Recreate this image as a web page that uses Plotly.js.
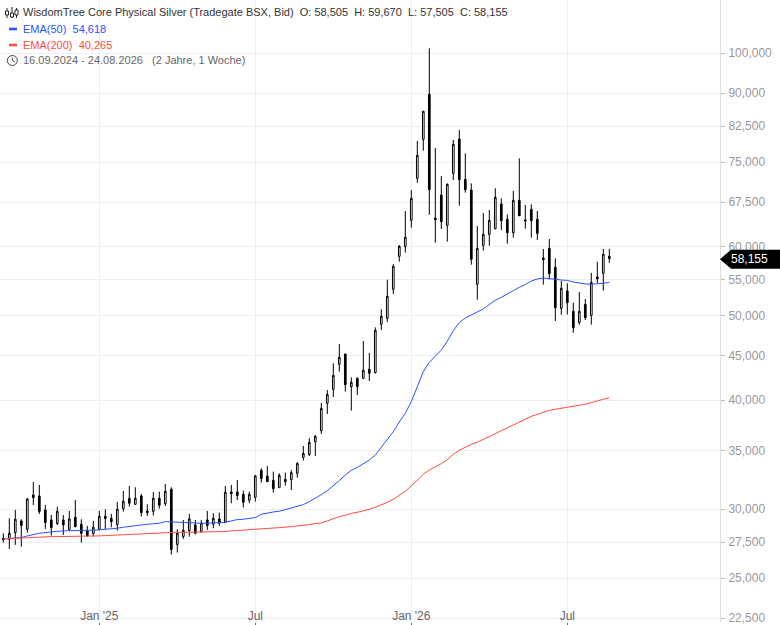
<!DOCTYPE html>
<html>
<head>
<meta charset="utf-8">
<script src="https://cdn.plot.ly/plotly-3.0.1.min.js"></script>
<style>html,body{margin:0;padding:0;background:#fff}#c{width:780px;height:625px}</style>
</head>
<body>
<div id="c"></div>
<script>
const dates = ["2024-09-16","2024-09-23","2024-09-30","2024-10-07","2024-10-14","2024-10-21","2024-10-28","2024-11-04","2024-11-11","2024-11-18","2024-11-25","2024-12-02","2024-12-09","2024-12-16","2024-12-23","2024-12-30",
"2025-01-06","2025-01-13","2025-01-20","2025-01-27","2025-02-03","2025-02-10","2025-02-17","2025-02-24","2025-03-03","2025-03-10","2025-03-17","2025-03-24","2025-03-31","2025-04-07","2025-04-14","2025-04-21","2025-04-28","2025-05-05","2025-05-12","2025-05-19","2025-05-26","2025-06-02","2025-06-09","2025-06-16","2025-06-23","2025-06-30",
"2025-07-07","2025-07-14","2025-07-21","2025-07-28","2025-08-04","2025-08-11","2025-08-18","2025-08-25","2025-09-01","2025-09-08","2025-09-15","2025-09-22","2025-09-29","2025-10-06","2025-10-13","2025-10-20","2025-10-27","2025-11-03","2025-11-10","2025-11-17","2025-11-24","2025-12-01","2025-12-08","2025-12-15","2025-12-22","2025-12-29",
"2026-01-05","2026-01-12","2026-01-19","2026-01-26","2026-02-02","2026-02-09","2026-02-16","2026-02-23","2026-03-02","2026-03-09","2026-03-16","2026-03-23","2026-03-30","2026-04-06","2026-04-13","2026-04-20","2026-04-27","2026-05-04","2026-05-11","2026-05-18","2026-05-25","2026-06-01","2026-06-08","2026-06-15","2026-06-22","2026-06-29",
"2026-07-06","2026-07-13","2026-07-20","2026-07-27","2026-08-03","2026-08-10","2026-08-17","2026-08-24"];

const opens = [27787,27714,28205,29088,28455,31154,31072,29944,29165,28884,29165,28430,29370,28833,28355,28131,28455,29448,29294,28807,30049,30880,30396,31072,29866,29840,30880,30450,31622,27327,27910,28355,28782,28280,29165,28833,29242,28986,31400,31400,31209,30718,30963,33247,32750,32381,31758,32465,32437,32985,34403,34652,35855,36920,39683,41170,43990,45204,41466,42385,42385,43412,43028,48890,49668,53619,58503,60057,64335,71874,79680,89730,64728,68782,63494,72835,79750,71681,69702,54326,60218,61992,62930,67171,64508,62260,67816,64391,66232,64508,58247,59734,56821,50987,53390,50590,49137,51530,50055,55394,55935,58505];
const highs = [28156,29294,29944,29216,30880,32240,31986,30342,29552,30209,29552,29866,30745,29216,28706,29088,29866,29996,29630,30583,31484,31902,31790,31236,30396,31400,31428,32070,31790,28455,29165,29630,29165,29165,29866,29682,29734,31902,31986,32411,31512,31428,32840,33424,33631,33131,32985,33044,33278,33956,35452,36176,36498,39717,41097,44105,46409,45204,42496,42496,46774,45324,48496,50851,55000,57313,60272,65938,69702,79330,85868,101320,77860,72322,70929,79540,81650,76783,70929,63380,65590,66120,70010,68169,65351,69518,75780,66996,67114,65938,59635,61240,58194,54803,54480,51754,53243,52266,55984,57680,59635,59670];
const lows = [27470,27015,27303,27183,28205,30342,29630,28480,27984,28782,28033,28355,28605,27471,27910,27910,28355,28455,28605,28355,29813,30209,30342,29422,29474,29500,30049,30262,26615,26756,27738,27910,28082,28205,28405,28530,28706,28960,30476,30745,30130,30476,30610,32183,32267,31337,31758,31928,31561,32607,34104,34526,34526,36595,38580,40352,43146,40925,38918,40566,42350,42090,42960,48162,49189,52960,57680,59069,63099,71051,77319,65292,60648,62874,60810,71553,66877,69212,57218,52160,59378,60162,62820,62706,60487,61455,65065,62930,61455,61078,54279,55049,49320,50131,50175,47815,48836,49441,48836,54480,53432,57505];
const closes = [27690,28156,29216,28732,30826,30936,29813,28960,28580,29840,28782,29242,28656,28156,27959,28605,29448,29268,29037,29996,30637,30476,30880,29734,29734,30880,30315,31456,26969,28156,28380,29242,28156,28909,28732,29294,28909,31373,31263,31100,30556,31209,32755,32522,32267,31674,32810,32267,33044,33867,34773,35792,36371,39153,40633,42717,44801,41686,41943,41466,43298,42960,48122,49931,52645,56969,60057,61508,68169,76380,85793,69763,64447,64109,70742,78632,71616,69763,58040,59734,61992,64335,68353,64277,62260,67816,65120,64225,64277,62153,57990,55886,51077,53765,51754,48451,50590,49747,54608,55150,58812,58155];

const ema50 = [27738,27762,27812,27837,27959,28082,28156,28205,28280,28305,28330,28355,28355,28380,28380,28380,28405,28430,28480,28530,28605,28681,28732,28782,28833,28859,28909,29037,29011,28960,28934,28909,28909,28909,28909,28934,28960,28986,29088,29191,29216,29268,29345,29600,29706,29785,29838,29970,30076,30210,30370,30602,30877,31180,31510,31896,32352,32841,33244,33507,33810,34163,34619,35329,36079,36821,37772,38648,39858,41468,43145,44217,44963,45680,46770,48070,49106,49715,50110,50510,50910,51495,52087,52500,52920,53430,53906,54290,54810,55100,55246,55197,55049,54951,54903,54660,54480,54384,54336,54384,54480,54618];
const ema200 = [27738,27762,27787,27812,27837,27885,27910,27910,27910,27910,27910,27922,27922,27935,27935,27935,27959,27984,28008,28033,28057,28082,28107,28131,28156,28180,28205,28230,28230,28230,28230,28230,28230,28255,28255,28255,28268,28280,28330,28355,28380,28405,28451,28476,28502,28527,28577,28615,28653,28704,28729,28805,28881,28932,29086,29265,29420,29526,29680,29760,29864,29996,30155,30340,30553,30797,31125,31456,31900,32410,32900,33275,33540,33837,34197,34680,35050,35360,35610,35800,36050,36340,36630,36920,37210,37510,37740,38040,38340,38540,38750,38955,39060,39160,39265,39370,39475,39580,39760,39900,40110,40265];

const yTicks = [22500,25000,27500,30000,35000,40000,45000,50000,55000,60000,67500,75000,82500,90000,100000];
const yTickLabels = ["22,500","25,000","27,500","30,000","35,000","40,000","45,000","50,000","55,000","60,000","67,500","75,000","82,500","90,000","100,000"];
const xTicks = ["2025-01-06","2025-07-07","2026-01-05","2026-07-06"];
const xTickLabels = ["Jan '25","Jul","Jan '26","Jul"];

const BLUE = "#2a52ff", RED = "#ff4d40";
const fmt = v => v.toLocaleString("en-US");
const last = a => a[a.length - 1];

const traces = [
  {type:"candlestick", x:dates, open:opens, high:highs, low:lows, close:closes,
   whiskerwidth:0, hoverinfo:"skip", showlegend:false,
   increasing:{line:{color:"#000",width:1}, fillcolor:"#fff"},
   decreasing:{line:{color:"#000",width:1}, fillcolor:"#000"}},
  {type:"scatter", mode:"lines", x:dates, y:ema50, line:{color:BLUE,width:1}, showlegend:false, hoverinfo:"skip"},
  {type:"scatter", mode:"lines", x:dates, y:ema200, line:{color:RED,width:1}, showlegend:false, hoverinfo:"skip"}
];

function label(text, px, py, color, size){
  return {text:text, xref:"paper", yref:"paper", x:px/720, y:1-py/622, xanchor:"left", yanchor:"middle",
          showarrow:false, borderpad:0, borderwidth:0, align:"left",
          font:{family:"Liberation Sans, Arial, sans-serif", size:size||11, color:color}};
}
function icon(path, o){
  return Object.assign({type:"path", xref:"paper", yref:"paper", xsizemode:"pixel", ysizemode:"pixel",
                        xanchor:0, yanchor:1, path:path, layer:"above"}, o);
}
const P = (x,y) => x + "," + (-y);
const shapes = [
  // legend icons
  icon("M"+P(7,8)+" L"+P(7,18)+" M"+P(12,7)+" L"+P(12,18)+" M"+P(16.5,8)+" L"+P(16.5,18), {line:{color:"#222",width:1}}),
  icon("M"+P(5.5,11)+" H8.5 V"+(-15)+" H5.5 Z M"+P(10.5,13)+" H13.5 V"+(-17)+" H10.5 Z M"+P(15,10)+" H18 V"+(-15)+" H15 Z", {fillcolor:"#fff",line:{color:"#222",width:1}}),
  icon("M"+P(9,27.7)+" H17 V"+(-30.3)+" H9 Z", {fillcolor:BLUE,line:{width:0}}),
  icon("M"+P(9,43.7)+" H17 V"+(-46.3)+" H9 Z", {fillcolor:RED,line:{width:0}}),
  {type:"circle", xref:"paper", yref:"paper", xsizemode:"pixel", ysizemode:"pixel", xanchor:0, yanchor:1,
   x0:7.3, x1:17.3, y0:-55.5, y1:-65.5, line:{color:"#444",width:1}, layer:"above"},
  icon("M"+P(12.3,57.5)+" L"+P(12.3,60.5)+" L"+P(14.8,62), {line:{color:"#444",width:1}}),
  // last price tag
  {type:"path", xref:"paper", yref:"y", xsizemode:"pixel", ysizemode:"pixel", xanchor:1, yanchor:last(closes),
   path:"M0,-0.6 L11,8.9 L60,8.9 L60,-10.1 L11,-10.1 Z", fillcolor:"#000", line:{width:0}, layer:"above"}
];

const annotations = [
  label("WisdomTree Core Physical Silver (Tradegate BSX, Bid)  O: "+fmt(last(opens))+"  H: "+fmt(last(highs))+"  L: "+fmt(last(lows))+"  C: "+fmt(last(closes)), 23, 12.5, "#333"),
  label("EMA(50)  "+fmt(last(ema50)), 23, 29, BLUE),
  label("EMA(200)  "+fmt(last(ema200)), 23, 45, RED),
  label("16.09.2024 - 24.08.2026   (2 Jahre, 1 Woche)", 23, 60.5, "#666"),
  {text:fmt(last(closes)), xref:"paper", yref:"y", x:730.5/720, y:Math.log10(last(closes)), yshift:-0.6, xanchor:"left", yanchor:"middle",
   showarrow:false, borderpad:0, borderwidth:0, font:{family:"Liberation Sans, Arial, sans-serif", size:12, color:"#fff"}}
];

const layout = {
  width:780, height:625, margin:{l:0,r:60,t:0,b:3,pad:0},
  paper_bgcolor:"#fff", plot_bgcolor:"#fff", showlegend:false, boxgap:0.6,
  font:{family:"Liberation Sans, Arial, sans-serif"},
  xaxis:{type:"date", range:["2024-09-12 03:36","2026-12-31 03:36"], rangeslider:{visible:false},
    tickmode:"array", tickvals:xTicks, ticktext:xTickLabels, ticklabelposition:"outside",
    ticklabelstandoff:-20, ticklabeloverflow:"allow",
    ticks:"outside", ticklen:3, tickcolor:"#666", tickwidth:1,
    showgrid:true, gridcolor:"#eeeeee", gridwidth:1, showline:false, zeroline:false,
    tickfont:{size:12,color:"#666"}, fixedrange:true},
  yaxis:{type:"log", side:"right", range:[4.3478,5.0611],
    tickmode:"array", tickvals:yTicks, ticktext:yTickLabels, ticklabeloverflow:"allow",
    ticks:"outside", ticklen:4, tickcolor:"#bbb", tickwidth:1, ticklabelstandoff:1,
    showgrid:true, gridcolor:"#eeeeee", gridwidth:1, showline:true, linecolor:"#ddd", linewidth:1, zeroline:false,
    tickfont:{size:12,color:"#999"}, fixedrange:true},
  shapes:shapes, annotations:annotations
};
Plotly.newPlot("c", traces, layout, {displayModeBar:false, staticPlot:true});
</script>
</body>
</html>
